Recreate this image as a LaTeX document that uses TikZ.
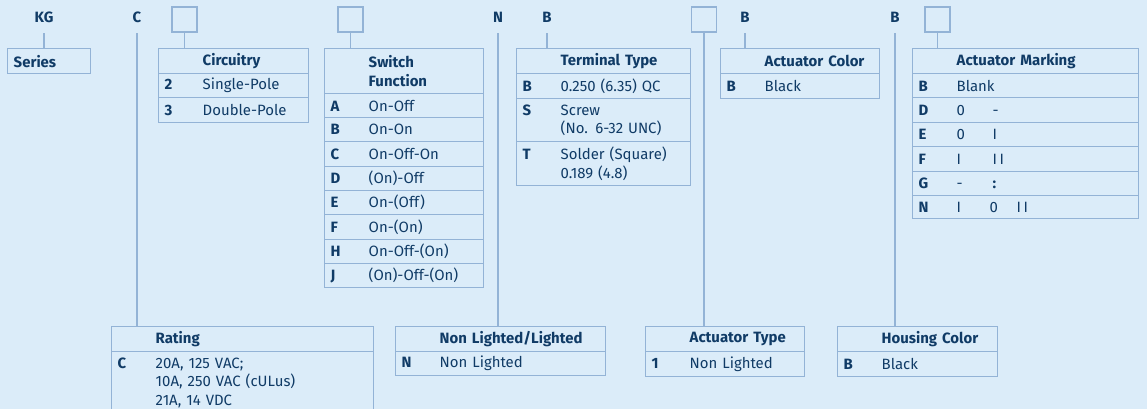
\documentclass[tikz,border=0pt]{standalone}
\usepackage{fontspec}
\setmainfont{Fira Sans}
\usetikzlibrary{positioning}

\definecolor{bgblue}{HTML}{DBECF9}
\definecolor{rulecol}{HTML}{93B3D6}
\definecolor{inkblue}{HTML}{103B66}

\newlength\pxu \setlength\pxu{0.75pt}
% code letter column and indent of the text column
\newcommand\code[1]{\makebox[38\pxu][l]{\textbf{#1}}}
\newcommand\ind{\hspace*{38\pxu}}
\newcommand\gap[2]{\makebox[#1\pxu][l]{#2}}
% one table row: name, x, y, width, height, text (in px)
\newcommand\tabcell[6]{%
  \pgfmathsetlengthmacro\cellw{(#4-12)*0.75pt}%
  \node[cell,minimum width={#4*0.75pt},minimum height={#5*0.75pt},text width=\cellw] (#1) at (#2,#3) {#6};}

\begin{document}
\begin{tikzpicture}[
  x=0.75pt, y=-0.75pt,
  cell/.style={draw=rulecol, line width=1.1pt, anchor=north west, inner xsep=4.5pt,
    inner ysep=0pt, align=left, text=inkblue, font=\fontsize{11.2}{14}\selectfont},
  toplbl/.style={text=inkblue, font=\fontsize{11.2}{14}\selectfont\bfseries,
    minimum height=24pt, inner sep=0pt},
  optbox/.style={draw=rulecol, line width=1.1pt, minimum size=18.75pt, inner sep=0pt},
  conn/.style={draw=rulecol, line width=1.1pt}
]
  \fill[bgblue] (0,0) rectangle (1147,409);
  \clip (0,0) rectangle (1147,409);

  % part number positions
  \node[toplbl] (kg) at (44,17) {KG};
  \node[toplbl] (lblc) at (137,17) {C};
  \node[optbox] (sqcirc) at (184.5,19.5) {};
  \node[optbox] (sqswf) at (350.5,19.5) {};
  \node[toplbl] (lbln) at (498,17) {N};
  \node[toplbl] (lblterm) at (547,17) {B};
  \node[optbox] (sqtype) at (704,19.5) {};
  \node[toplbl] (lblcol) at (745,17) {B};
  \node[toplbl] (lblhous) at (895,17) {B};
  \node[optbox] (sqmark) at (937.5,19.5) {};

  % upper tables
  \tabcell{series}{7}{48}{83}{25}{\textbf{Series}}

  \tabcell{circ}{158}{48}{150}{25}{\ind\textbf{Circuitry}}
  \tabcell{c2}{158}{73}{150}{24}{\code{2}Single-Pole}
  \tabcell{c3}{158}{97}{150}{25}{\code{3}Double-Pole}

  \tabcell{swf}{324}{48}{159}{45}{\ind\textbf{Switch}\\\ind\textbf{Function}}
  \tabcell{swA}{324}{93}{159}{24}{\code{A}On-Off}
  \tabcell{swB}{324}{117}{159}{24}{\code{B}On-On}
  \tabcell{swC}{324}{141}{159}{25}{\code{C}On-Off-On}
  \tabcell{swD}{324}{166}{159}{24}{\code{D}(On)-Off}
  \tabcell{swE}{324}{190}{159}{24}{\code{E}On-(Off)}
  \tabcell{swF}{324}{214}{159}{25}{\code{F}On-(On)}
  \tabcell{swH}{324}{239}{159}{24}{\code{H}On-Off-(On)}
  \tabcell{swJ}{324}{263}{159}{24}{\code{J}(On)-Off-(On)}

  \tabcell{term}{516}{48}{174}{25}{\ind\textbf{Terminal Type}}
  \tabcell{tB}{516}{73}{174}{25}{\code{B}0.250 (6.35) QC}
  \tabcell{tS}{516}{98}{174}{43}{\code{S}Screw\\\ind(No. 6-32 UNC)}
  \tabcell{tT}{516}{141}{174}{44}{\code{T}Solder (Square)\\\ind0.189 (4.8)}

  \tabcell{acol}{720}{48}{159}{25}{\ind\textbf{Actuator Color}}
  \tabcell{acB}{720}{73}{159}{25}{\code{B}Black}

  \tabcell{amark}{912}{48}{226}{25}{\ind\textbf{Actuator Marking}}
  \tabcell{mB}{912}{73}{226}{24}{\code{B}Blank}
  \tabcell{mD}{912}{97}{226}{25}{\code{D}\gap{36}{0}-}
  \tabcell{mE}{912}{122}{226}{24}{\code{E}\gap{36}{0}I}
  \tabcell{mF}{912}{146}{226}{25}{\code{F}\gap{36}{I}I\,I}
  \tabcell{mG}{912}{171}{226}{24}{\code{G}\gap{36}{-}\textbf{:}}
  \tabcell{mN}{912}{195}{226}{23}{\code{N}\gap{33}{I}\gap{27}{0}I\,I}

  % lower tables
  \tabcell{rating}{111}{326}{262}{25}{\ind\textbf{Rating}}
  \tabcell{rC}{111}{351}{262}{62}{\code{C}20A, 125 VAC;\\\ind10A, 250 VAC (cULus)\\\ind21A, 14 VDC}

  \tabcell{light}{395}{326}{210}{25}{\ind\textbf{Non Lighted/Lighted}}
  \tabcell{lN}{395}{351}{210}{24}{\code{N}Non Lighted}

  \tabcell{atype}{645}{326}{159}{25}{\ind\textbf{Actuator Type}}
  \tabcell{at1}{645}{351}{159}{25}{\code{1}Non Lighted}

  \tabcell{hcol}{837}{326}{160}{25}{\ind\textbf{Housing Color}}
  \tabcell{hB}{837}{351}{160}{25}{\code{B}Black}

  % leaders from the part number down to their tables
  \foreach \a/\b in {kg/series, lblc/rating, sqcirc/circ, sqswf/swf, lbln/light,
      lblterm/term, sqtype/atype, lblcol/acol, lblhous/hcol, sqmark/amark}
    \draw[conn] (\a.south) -- (\a.south |- \b.north);
\end{tikzpicture}
\end{document}
